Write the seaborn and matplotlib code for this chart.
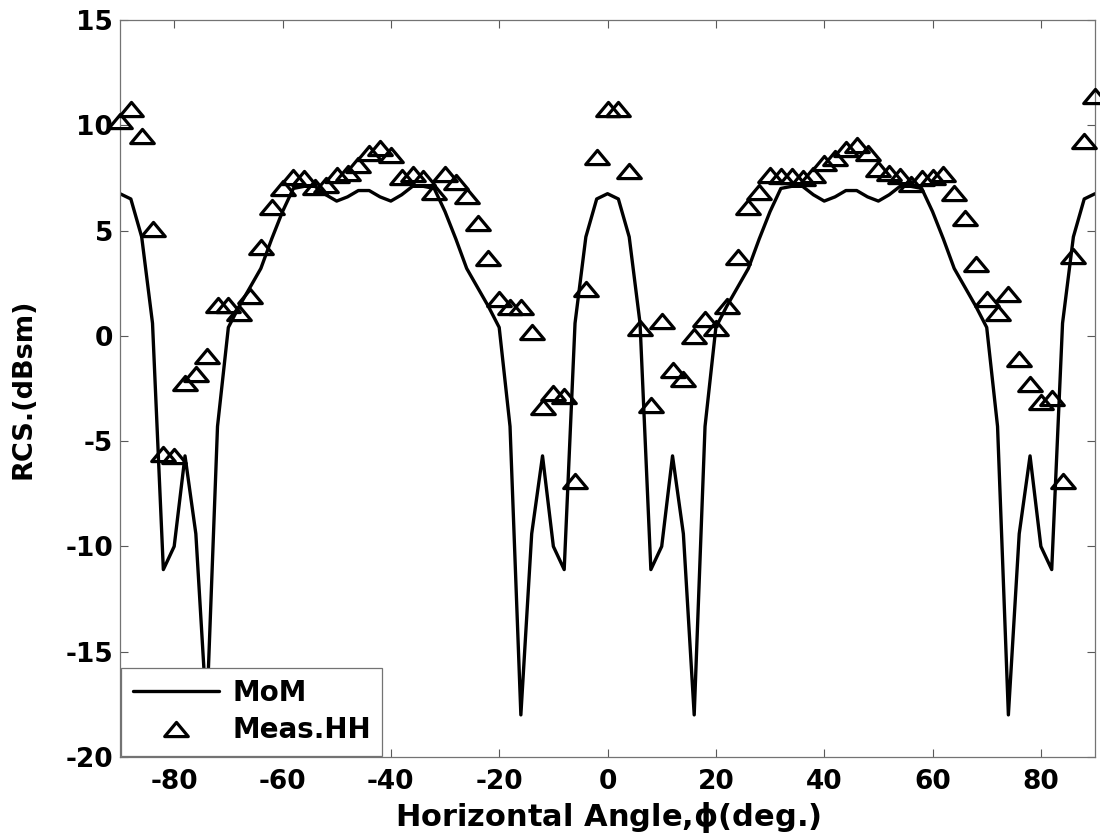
import matplotlib
matplotlib.use("Agg")
import matplotlib.pyplot as plt
import seaborn as sns
import pandas as pd
from matplotlib.path import Path

# Horizontal angle samples (deg.)
angle_deg = [-90, -88, -86, -84, -82, -80, -78, -76, -74, -72, -70, -68, -66, -64, -62, -60,
             -58, -56, -54, -52, -50, -48, -46, -44, -42, -40, -38, -36, -34, -32, -30, -28,
             -26, -24, -22, -20, -18, -16, -14, -12, -10, -8, -6, -4, -2, 0,
             2, 4, 6, 8, 10, 12, 14, 16, 18, 20, 22, 24, 26, 28, 30, 32, 34, 36, 38, 40,
             42, 44, 46, 48, 50, 52, 54, 56, 58, 60, 62, 64, 66, 68, 70, 72, 74, 76, 78, 80,
             82, 84, 86, 88, 90]

# MoM simulation (dBsm)
mom_rcs = [6.75, 6.5, 4.7, 0.6, -11.1, -10.0, -5.7, -9.4, -18.0, -4.3, 0.4, 1.4, 2.3, 3.2, 4.6, 5.9,
           7.0, 7.1, 7.1, 6.7, 6.4, 6.6, 6.9, 6.9, 6.6, 6.4, 6.7, 7.1, 7.1, 7.0, 5.9, 4.6,
           3.2, 2.3, 1.4, 0.4, -4.3, -18.0, -9.4, -5.7, -10.0, -11.1, 0.6, 4.7, 6.5, 6.75,
           6.5, 4.7, 0.6, -11.1, -10.0, -5.7, -9.4, -18.0, -4.3, 0.4, 1.4, 2.3, 3.2, 4.6, 5.9, 7.0,
           7.1, 7.1, 6.7, 6.4, 6.6, 6.9, 6.9, 6.6, 6.4, 6.7, 7.1, 7.1, 7.0, 5.9, 4.6, 3.2,
           2.3, 1.4, 0.4, -4.3, -18.0, -9.4, -5.7, -10.0, -11.1, 0.6, 4.7, 6.5, 6.75]

# Measured HH (dBsm)
meas_hh_rcs = [10.18, 10.75, 9.5, 5.07, -5.6, -5.7, -2.26, -1.79, -0.97, 1.46, 1.47, 1.1, 1.9, 4.24, 6.11, 7.0,
               7.56, 7.49, 7.09, 7.17, 7.64, 7.75, 8.12, 8.7, 8.94, 8.58, 7.52, 7.69, 7.5, 6.84, 7.69, 7.31,
               6.65, 5.38, 3.69, 1.77, 1.36, 1.36, 0.19, -3.39, -2.7, -2.85, -6.9, 2.23, 8.48, 10.78,
               10.78, 7.82, 0.36, -3.3, 0.71, -1.61, -2.04, -0.03, 0.82, 0.36, 1.41, 3.74, 6.14, 6.85, 7.65, 7.57,
               7.57, 7.5, 7.63, 8.23, 8.44, 8.85, 9.05, 8.69, 7.9, 7.71, 7.6, 7.22, 7.49, 7.55, 7.68, 6.77,
               5.6, 3.42, 1.77, 1.08, 1.99, -1.11, -2.3, -3.13, -2.94, -6.9, 3.81, 9.23, 11.4]

x_ticks = [-80, -60, -40, -20, 0, 20, 40, 60, 80]
y_ticks = [-20, -15, -10, -5, 0, 5, 10, 15]

sns.set_theme(style="white")
plt.rcParams['font.family'] = ['DejaVu Sans']
plt.rcParams['font.weight'] = 'bold'
plt.rcParams['axes.labelweight'] = 'bold'
plt.rcParams['axes.unicode_minus'] = False
plt.rcParams['text.color'] = 'black'
plt.rcParams['axes.labelcolor'] = 'black'
plt.rcParams['xtick.color'] = 'black'
plt.rcParams['ytick.color'] = 'black'
plt.rcParams['mathtext.fontset'] = 'dejavusans'

df = pd.DataFrame({"angle": angle_deg, "MoM": mom_rcs, "Meas": meas_hh_rcs})

fig = plt.figure(figsize=(11, 8.36), dpi=100)
ax = fig.add_axes([0.1091, 0.0945, 0.8864, 0.8816])

sns.lineplot(data=df, x="angle", y="MoM", ax=ax, color="black", linewidth=2.4,
             label="MoM", zorder=2)

tri = Path([(-1, -0.6), (1, -0.6), (0, 0.6), (-1, -0.6)],
           [Path.MOVETO, Path.LINETO, Path.LINETO, Path.CLOSEPOLY])
sns.lineplot(data=df, x="angle", y="Meas", ax=ax, color="black", linestyle="none",
             marker=tri, markersize=17, markerfacecolor="none", markeredgecolor="black",
             markeredgewidth=2.3, label="Meas.HH", zorder=3, clip_on=False)

ax.set_xlim(-90, 90)
ax.set_ylim(-20, 15)
ax.set_xticks(x_ticks)
ax.set_yticks(y_ticks)
ax.tick_params(axis="both", direction="in", length=6, width=0.8, color="0.35",
               labelcolor="black", top=True, right=True, bottom=True, left=True,
               labelsize=19)
ax.tick_params(axis="x", pad=9)
ax.tick_params(axis="y", pad=5)
for lab in ax.get_xticklabels() + ax.get_yticklabels():
    lab.set_fontweight("bold")
for sp in ax.spines.values():
    sp.set_color("0.45")
    sp.set_linewidth(0.9)

ax.set_xlabel(r"Horizontal Angle,$\mathregular{\phi}$(deg.)", fontsize=22,
              fontweight="bold", labelpad=3, color="black")
ax.set_ylabel("RCS.(dBsm)", fontsize=19.5, fontweight="bold", labelpad=21, color="black")

leg = ax.legend(loc="lower left", fontsize=20, frameon=True, fancybox=False,
                edgecolor="0.45", framealpha=1, borderaxespad=0.05, handlelength=3.1,
                handletextpad=0.5, borderpad=0.4, labelspacing=0.35)
leg.get_frame().set_linewidth(0.9)
for t in leg.get_texts():
    t.set_fontweight("bold")
    t.set_color("black")

fig.savefig("out.png", dpi=100)
